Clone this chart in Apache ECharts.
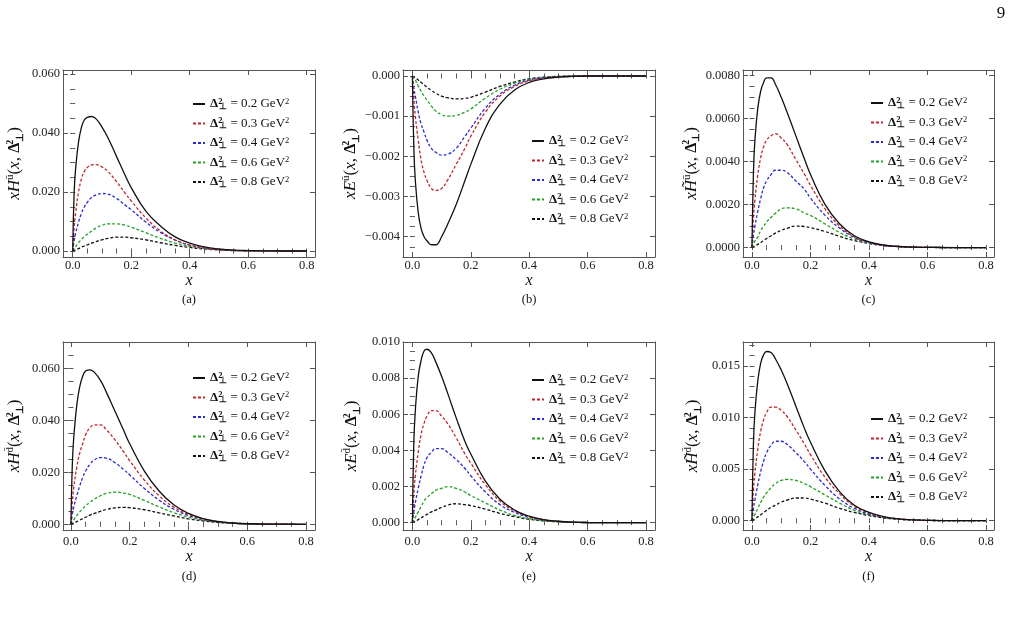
<!DOCTYPE html>
<html><head><meta charset="utf-8">
<script src="https://cdn.jsdelivr.net/npm/echarts@6/dist/echarts.min.js"></script>
<style>html,body{margin:0;padding:0;background:#fff}#c{width:1014px;height:626px}</style>
</head><body><div id="c"></div>
<script>
// ---------------- data ----------------
const xs = [0,0.005,0.01,0.02,0.03,0.04,0.05,0.065,0.08,0.1,0.12,0.15,0.18,0.2,0.25,0.3,0.35,0.4,0.45,0.5,0.55,0.6,0.7,0.8];
const seriesNames = ['0.2','0.3','0.4','0.6','0.8'];

// (a) x H^ubar
const a02 = [0,0.020,0.028,0.037,0.042,0.0445,0.0453,0.0456,0.0448,0.042,0.0385,0.032,0.0255,0.0215,0.0135,0.0085,0.0048,0.0027,0.0014,0.0007,0.0003,0.00015,0.00002,0];
const a03 = [0,0.008,0.013,0.020,0.0245,0.027,0.0283,0.0292,0.0293,0.0285,0.027,0.0235,0.0195,0.017,0.0112,0.0068,0.0038,0.002,0.001,0.00045,0.0002,0.00008,0.00001,0];
const a04 = [0,0.0035,0.006,0.0098,0.0128,0.015,0.0165,0.0182,0.019,0.0195,0.0193,0.0178,0.0155,0.014,0.0098,0.0063,0.0037,0.002,0.001,0.00048,0.0002,0.0001,0.00001,0];
const a06 = [0,0.0008,0.0015,0.0028,0.0039,0.0049,0.0057,0.0068,0.0078,0.0087,0.0092,0.0092,0.0087,0.0081,0.0062,0.0043,0.0027,0.0016,0.00085,0.0004,0.0002,0.00008,0.00001,0];
const a08 = [0,0.0002,0.0004,0.0008,0.0013,0.0017,0.0021,0.0027,0.0032,0.0038,0.0043,0.0047,0.0047,0.0045,0.0038,0.0028,0.0019,0.0012,0.0007,0.00035,0.00016,0.00007,0.00001,0];
// (b) x E^ubar
const b02 = [0,-0.0018,-0.0026,-0.0034,-0.0038,-0.0040,-0.0041,-0.0042,-0.0042,-0.0040,-0.0037,-0.0032,-0.0026,-0.0022,-0.0013,-0.0007,-0.00035,-0.00016,-0.00007,-0.00003,-0.00001,0,0,0];
const b03 = [0,-0.0006,-0.001,-0.0016,-0.0021,-0.0024,-0.0026,-0.0028,-0.00285,-0.0028,-0.0026,-0.0022,-0.0018,-0.0015,-0.0009,-0.0005,-0.00026,-0.00012,-0.00005,-0.00002,-0.00001,0,0,0];
const b04 = [0,-0.0003,-0.0005,-0.0009,-0.0012,-0.0014,-0.0016,-0.0018,-0.0019,-0.00197,-0.00195,-0.0018,-0.0015,-0.0013,-0.0008,-0.00045,-0.00023,-0.0001,-0.00004,-0.00002,-0.00001,0,0,0];
const b06 = [0,-0.00005,-0.0001,-0.00025,-0.00038,-0.0005,-0.0006,-0.00075,-0.00087,-0.00096,-0.001,-0.00098,-0.0009,-0.00082,-0.00055,-0.00033,-0.00018,-0.00008,-0.00003,-0.00001,0,0,0,0];
const b08 = [0,-0.00002,-0.00004,-0.0001,-0.00016,-0.00022,-0.00028,-0.00036,-0.00043,-0.0005,-0.00054,-0.00057,-0.00056,-0.00053,-0.0004,-0.00026,-0.00015,-0.00007,-0.00003,-0.00001,0,0,0,0];
// (c) x Htilde^ubar
const c02 = [0,0.0035,0.0050,0.0065,0.0073,0.0077,0.0079,0.0079,0.0076,0.0070,0.0063,0.0052,0.0041,0.0034,0.0020,0.0011,0.00055,0.00027,0.00012,0.00005,0.00002,0.00001,0,0];
const c03 = [0,0.0014,0.0022,0.0034,0.0042,0.0047,0.0050,0.0052,0.0053,0.0051,0.0048,0.0041,0.0034,0.0029,0.0018,0.001,0.0005,0.00025,0.00011,0.00005,0.00002,0.00001,0,0];
const c04 = [0,0.0006,0.001,0.0017,0.0023,0.0028,0.0031,0.0034,0.0036,0.0036,0.0035,0.0031,0.0027,0.0023,0.0015,0.0009,0.00047,0.00023,0.0001,0.00005,0.00002,0.00001,0,0];
const c06 = [0,0.00015,0.0003,0.0005,0.0008,0.001,0.0012,0.0014,0.0016,0.0018,0.00185,0.0018,0.0016,0.0015,0.0011,0.0007,0.0004,0.0002,0.0001,0.00005,0.00002,0.00001,0,0];
const c08 = [0,0.00003,0.00007,0.00015,0.00024,0.00033,0.00042,0.00055,0.00067,0.0008,0.0009,0.001,0.00098,0.00093,0.00075,0.00052,0.00033,0.00019,0.0001,0.00005,0.00002,0.00001,0,0];
// (d) x H^dbar
const d02 = [0,0.024,0.034,0.046,0.053,0.057,0.0590,0.0595,0.0585,0.0555,0.051,0.0435,0.036,0.031,0.0205,0.0128,0.0075,0.0042,0.0022,0.0011,0.0005,0.0002,0.00004,0];
const d03 = [0,0.009,0.0145,0.022,0.0275,0.031,0.0345,0.0372,0.0383,0.0383,0.0365,0.0325,0.0278,0.0245,0.017,0.011,0.0066,0.0038,0.002,0.001,0.0005,0.0002,0.00004,0];
const d04 = [0,0.004,0.0068,0.011,0.0148,0.018,0.0205,0.0232,0.0248,0.0257,0.0255,0.0237,0.021,0.019,0.0138,0.0093,0.0058,0.0034,0.0019,0.001,0.0005,0.0002,0.00004,0];
const d06 = [0,0.001,0.0018,0.0034,0.0048,0.006,0.0071,0.0085,0.0097,0.011,0.0119,0.0124,0.012,0.0115,0.0092,0.0067,0.0045,0.0028,0.0016,0.0009,0.00045,0.0002,0.00004,0];
const d08 = [0,0.0002,0.0005,0.001,0.0016,0.0022,0.0027,0.0035,0.0042,0.005,0.0057,0.0063,0.0065,0.0064,0.0056,0.0044,0.0032,0.0021,0.0013,0.0007,0.00035,0.00017,0.00003,0];
// (e) x E^dbar
const e02 = [0,0.0045,0.0062,0.0081,0.009,0.0095,0.0096,0.0094,0.0089,0.0081,0.0072,0.0058,0.0045,0.0038,0.0023,0.0013,0.0007,0.00036,0.00017,0.00008,0.00003,0.00001,0,0];
const e03 = [0,0.0016,0.0026,0.0039,0.0049,0.0055,0.0059,0.0062,0.0062,0.0059,0.0055,0.0047,0.0038,0.0033,0.0021,0.0012,0.00065,0.00033,0.00016,0.00007,0.00003,0.00001,0,0];
const e04 = [0,0.0006,0.0011,0.0019,0.0026,0.0032,0.0036,0.0039,0.0041,0.0041,0.0039,0.0035,0.003,0.0026,0.0017,0.001,0.00057,0.0003,0.00015,0.00007,0.00003,0.00001,0,0];
const e06 = [0,0.00015,0.0003,0.0006,0.0009,0.0012,0.0014,0.0016,0.0018,0.0019,0.002,0.0019,0.0017,0.0015,0.0011,0.0007,0.0004,0.00022,0.00011,0.00005,0.00002,0.00001,0,0];
const e08 = [0,0.00004,0.00008,0.00017,0.00027,0.00037,0.00046,0.0006,0.0007,0.00085,0.00097,0.00105,0.001,0.00095,0.00075,0.00052,0.00033,0.00019,0.0001,0.00005,0.00002,0.00001,0,0];
// (f) x Htilde^dbar
const f02 = [0,0.0075,0.0105,0.0136,0.0153,0.0161,0.0164,0.0163,0.0157,0.0146,0.0133,0.0111,0.0089,0.0076,0.0048,0.0028,0.0015,0.0008,0.0004,0.00018,0.00008,0.00003,0.00001,0];
const f03 = [0,0.003,0.0046,0.007,0.0087,0.0098,0.0105,0.011,0.011,0.0107,0.0101,0.0088,0.0074,0.0064,0.0042,0.0026,0.0014,0.00075,0.00038,0.00018,0.00008,0.00003,0.00001,0];
const f04 = [0,0.0012,0.002,0.0035,0.0048,0.0058,0.0066,0.0073,0.0077,0.0077,0.0074,0.0066,0.0057,0.005,0.0034,0.0021,0.0012,0.00066,0.00034,0.00017,0.00008,0.00003,0.00001,0];
const f06 = [0,0.0003,0.0006,0.0012,0.0018,0.0023,0.0027,0.0032,0.0036,0.0039,0.004,0.0039,0.0036,0.0033,0.0025,0.0017,0.001,0.0006,0.0003,0.00015,0.00007,0.00003,0.00001,0];
const f08 = [0,0.00008,0.00017,0.00037,0.00058,0.0008,0.001,0.0013,0.0015,0.0018,0.002,0.0022,0.0022,0.0021,0.0017,0.0012,0.0008,0.0005,0.00027,0.00014,0.00007,0.00003,0.00001,0];

// tick labels
const xTickValues = [0,0.2,0.4,0.6,0.8];
const yTicksA = [0,0.02,0.04,0.06];
const yTicksB = [0,-0.001,-0.002,-0.003,-0.004];
const yTicksC = [0,0.002,0.004,0.006,0.008];
const yTicksD = [0,0.02,0.04,0.06];
const yTicksE = [0,0.002,0.004,0.006,0.008,0.010];
const yTicksF = [0,0.005,0.010,0.015];

// ---------------- styling / layout ----------------
const FONT = 'Liberation Serif';
const FRAME = '#555';
const colors = ['#111111','#c0272d','#2b2bd0','#25a028','#111111'];
const dashes = ['solid',[3,2],[3,2],[3,2],[3,2]];

function range(a, b, s){ const r=[]; const n=Math.round((b-a)/s); for(let i=0;i<=n;i++) r.push(+(a+i*s).toFixed(8)); return r; }

const panels = [
  {box:[63,70,315,257], xr:[-0.0332,0.8284], yr:[-0.00203,0.06136], yt:yTicksA, ym:0.005, fmt:v=>v.toFixed(3), q:'H', sup:'ū', tilde:false, data:[a02,a03,a04,a06,a08], leg:[192,97], cap:'(a)', gap:38},
  {box:[403,70,655,257], xr:[-0.0322,0.831], yr:[-0.004505,0.000149], yt:yTicksB, ym:0.00025, fmt:v=> Math.abs(v)<1e-12?'0.000':'−'+Math.abs(v).toFixed(3), q:'E', sup:'ū', tilde:false, data:[b02,b03,b04,b06,b08], leg:[531,134], cap:'(b)', gap:41},
  {box:[743,70,994,257], xr:[-0.0307,0.8273], yr:[-0.000438,0.008266], yt:yTicksC, ym:0.0005, fmt:v=>v.toFixed(4), q:'H', sup:'ū', tilde:true, data:[c02,c03,c04,c06,c08], leg:[870,96], cap:'(c)', gap:40},
  {box:[63,342,315,530], xr:[-0.027,0.8306], yr:[-0.0022,0.0702], yt:yTicksD, ym:0.005, fmt:v=>v.toFixed(3), q:'H', sup:'d̄', tilde:false, data:[d02,d03,d04,d06,d08], leg:[192,371], cap:'(d)', gap:38},
  {box:[403,342,655,530], xr:[-0.0322,0.831], yr:[-0.000403,0.010], yt:yTicksE, ym:0.0005, fmt:v=>v.toFixed(3), q:'E', sup:'d̄', tilde:false, data:[e02,e03,e04,e06,e08], leg:[531,373], cap:'(e)', gap:41},
  {box:[743,342,994,530], xr:[-0.0307,0.8273], yr:[-0.0009,0.01732], yt:yTicksF, ym:0.001, fmt:v=>v.toFixed(3), q:'H', sup:'d̄', tilde:true, data:[f02,f03,f04,f06,f08], leg:[870,412], cap:'(f)', gap:40}
];

const xMinor = range(0,0.8,0.05);
const lineS = {color:FRAME, width:1};

const grid=[], xAxis=[], yAxis=[], series=[], legend=[], graphic=[];

const nameRich = {
  i:{fontFamily:FONT, fontStyle:'italic', fontSize:17, color:'#111'},
  n:{fontFamily:FONT, fontSize:17, color:'#111'},
  u:{fontFamily:FONT, fontSize:11, color:'#111', verticalAlign:'top', lineHeight:20},
  b:{fontFamily:FONT, fontWeight:'bold', fontSize:16, color:'#111'},
  p:{fontFamily:FONT, fontWeight:'bold', fontSize:10, color:'#111', verticalAlign:'top', lineHeight:20, width:1},
  s:{fontFamily:FONT, fontWeight:'bold', fontSize:10, color:'#111', verticalAlign:'bottom', lineHeight:20}
};

panels.forEach((p, gi) => {
  const [l,t,r,b] = p.box;
  const row1 = gi < 3;
  grid.push({left:l, top:t, width:r-l, height:b-t, containLabel:false});
  const yMin = range(Math.ceil(p.yr[0]/p.ym)*p.ym, Math.floor(p.yr[1]/p.ym)*p.ym, p.ym);
  const common = {gridIndex:gi, type:'value', splitLine:{show:false}};
  const hq = p.tilde ? p.q + '̃' : p.q;
  xAxis.push(
    {...common, position:'bottom', min:p.xr[0], max:p.xr[1],
      axisLine:{show:true, onZero:false, lineStyle:lineS},
      axisTick:{show:true, inside:true, length:5, customValues:xTickValues, lineStyle:lineS},
      axisLabel:{show:true, customValues:xTickValues, formatter:v=>v.toFixed(1), margin: row1?2:5, fontFamily:FONT, fontSize:12.5, color:'#222'},
      name:'x', nameLocation:'middle', nameGap: row1?13:19,
      nameTextStyle:{fontFamily:FONT, fontStyle:'italic', fontSize:16, color:'#111'}},
    {...common, position:'bottom', min:p.xr[0], max:p.xr[1], axisLine:{show:false},
      axisTick:{show:true, inside:true, length:2.5, customValues:xMinor, lineStyle:lineS}, axisLabel:{show:false}},
    {...common, position:'top', min:p.xr[0], max:p.xr[1], axisLine:{show:true, onZero:false, lineStyle:lineS},
      axisTick:{show:true, inside:true, length:5, customValues:xTickValues, lineStyle:lineS}, axisLabel:{show:false}},
    {...common, position:'top', min:p.xr[0], max:p.xr[1], axisLine:{show:false},
      axisTick:{show:true, inside:true, length:2.5, customValues:xMinor, lineStyle:lineS}, axisLabel:{show:false}}
  );
  yAxis.push(
    {...common, position:'left', min:p.yr[0], max:p.yr[1],
      axisLine:{show:true, onZero:false, lineStyle:lineS},
      axisTick:{show:true, inside:true, length:5, customValues:p.yt, lineStyle:lineS},
      axisLabel:{show:true, customValues:p.yt, formatter:p.fmt, margin:3, fontFamily:FONT, fontSize:12.5, color:'#222'},
      name:`{i|x${hq}}{u|${p.sup}}{n|(}{i|x}{n|, }{b|Δ}{p|2}{s|⊥}{n|)}`,
      nameLocation:'middle', nameGap:p.gap, nameRotate:90,
      nameTextStyle:{rich:nameRich, fontFamily:FONT, fontSize:17}},
    {...common, position:'left', min:p.yr[0], max:p.yr[1], axisLine:{show:false},
      axisTick:{show:true, inside:true, length:2.5, customValues:yMin, lineStyle:lineS}, axisLabel:{show:false}},
    {...common, position:'right', min:p.yr[0], max:p.yr[1], axisLine:{show:true, onZero:false, lineStyle:lineS},
      axisTick:{show:true, inside:true, length:5, customValues:p.yt, lineStyle:lineS}, axisLabel:{show:false}},
    {...common, position:'right', min:p.yr[0], max:p.yr[1], axisLine:{show:false},
      axisTick:{show:true, inside:true, length:2.5, customValues:yMin, lineStyle:lineS}, axisLabel:{show:false}}
  );
  p.data.forEach((arr, k) => {
    series.push({
      type:'line', name:seriesNames[k], xAxisIndex:gi*4, yAxisIndex:gi*4,
      data: xs.map((x,j)=>[x, arr[j]]), showSymbol:false, symbol:'none',
      smooth:0.45, silent:true, animation:false,
      lineStyle:{color:colors[k], width:1.3, type:dashes[k]}, itemStyle:{color:colors[k]},
      z: 10-k
    });
  });
  legend.push({
    data:seriesNames, left:p.leg[0], top:p.leg[1], orient:'vertical', padding:0,
    itemWidth:12, itemHeight:10, itemGap:5.5, selectedMode:false,
    itemStyle:{opacity:0, color:'transparent', borderWidth:0},
    formatter: n => `{d|Δ}{p|2}{s|⊥}{t| = ${n} GeV}{q|2}`,
    textStyle:{fontFamily:FONT, fontSize:13, color:'#111', rich:{
      d:{fontFamily:FONT, fontWeight:'bold', fontSize:13, color:'#111', lineHeight:14},
      p:{fontFamily:FONT, fontWeight:'bold', fontSize:8.5, color:'#111', verticalAlign:'top', lineHeight:14, width:1},
      s:{fontFamily:FONT, fontWeight:'bold', fontSize:8.5, color:'#111', verticalAlign:'bottom', lineHeight:14},
      t:{fontFamily:FONT, fontSize:13, color:'#111', lineHeight:14},
      q:{fontFamily:FONT, fontSize:8.5, color:'#111', verticalAlign:'top', lineHeight:14}
    }}
  });
  graphic.push({type:'text', x:(l+r)/2, y: row1?300:577, style:{text:p.cap, fontFamily:FONT, fontSize:12.5, fill:'#111', align:'center', verticalAlign:'middle'}});
});
graphic.push({type:'text', x:1001, y:14, style:{text:'9', fontFamily:FONT, fontSize:17, fill:'#111', align:'center', verticalAlign:'middle'}});

const chart = echarts.init(document.getElementById('c'), null, {renderer:'canvas'});
chart.setOption({backgroundColor:'#fff', animation:false, grid, xAxis, yAxis, series, legend, graphic});
</script></body></html>
